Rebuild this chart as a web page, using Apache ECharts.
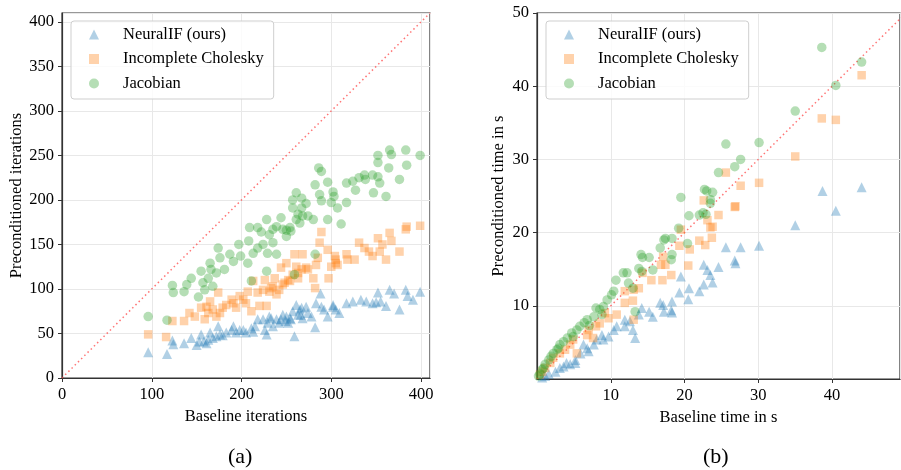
<!DOCTYPE html>
<html><head><meta charset="utf-8">
<script src="https://cdn.jsdelivr.net/npm/echarts@6/dist/echarts.min.js"></script>
<style>html,body{margin:0;padding:0;background:#fff;}#c{width:901px;height:470px;}</style>
</head><body><div id="c"></div>
<script>
const seriesNames = ['NeuralIF (ours)', 'Incomplete Cholesky', 'Jacobian'];
const iterTicksX = [0, 100, 200, 300, 400];
const timeTicks = [10, 20, 30, 40, 50];
const iterNeural = [[96,29],[117,27],[123,42],[124,38],[136,39],[144,45],[150,37],[153,41],[155,49],[158,41],[161,39],[163,43],[165,51],[168,45],[172,47],[174,58],[176,49],[179,48],[183,51],[189,54],[191,58],[194,51],[198,54],[202,54],[205,51],[211,56],[213,52],[215,58],[218,66],[224,66],[226,54],[228,49],[229,62],[231,69],[233,67],[235,58],[239,66],[242,62],[244,66],[246,71],[249,64],[250,69],[252,62],[254,67],[255,66],[257,75],[259,47],[261,82],[263,71],[265,77],[266,71],[267,79],[268,67],[272,80],[274,73],[278,69],[282,57],[283,84],[288,95],[289,80],[292,77],[296,69],[302,80],[302,82],[305,77],[309,73],[317,84],[324,86],[333,88],[339,86],[346,84],[350,85],[352,96],[355,86],[361,81],[365,99],[370,95],[376,77],[383,99],[385,92],[391,88],[399,97]];
const iterIC = [[96,49],[116,46],[123,64],[136,64],[142,73],[148,69],[155,79],[159,66],[161,80],[163,73],[165,86],[168,77],[172,69],[174,96],[176,73],[179,79],[183,82],[189,88],[191,84],[194,79],[198,92],[202,88],[205,84],[207,97],[211,75],[213,109],[218,96],[220,81],[224,99],[226,110],[228,81],[231,97],[233,101],[235,103],[237,112],[239,94],[242,99],[244,124],[246,105],[248,107],[250,129],[252,110],[254,109],[257,116],[259,139],[261,125],[263,112],[263,118],[267,122],[268,139],[272,124],[274,122],[280,112],[282,101],[283,127],[285,135],[287,152],[289,164],[296,144],[297,112],[300,125],[304,137],[305,133],[305,129],[307,127],[317,139],[318,133],[326,133],[331,152],[337,146],[342,142],[346,137],[352,157],[354,142],[357,150],[361,133],[365,163],[367,154],[376,142],[383,167],[384,170],[399,171]];
const iterJac = [[96,69],[117,65],[123,104],[124,96],[136,97],[139,105],[144,112],[152,91],[155,120],[157,107],[159,99],[163,112],[165,129],[166,122],[168,103],[172,118],[174,146],[176,135],[181,122],[187,139],[191,131],[197,150],[199,137],[207,129],[208,154],[209,169],[211,109],[213,140],[218,146],[218,169],[222,164],[224,150],[228,120],[228,178],[229,140],[231,161],[235,152],[235,167],[239,139],[239,170],[244,180],[246,167],[250,159],[250,166],[254,169],[255,165],[257,191],[257,200],[259,116],[261,208],[261,178],[263,184],[265,174],[267,191],[267,202],[268,182],[272,196],[274,182],[280,178],[282,139],[282,217],[286,236],[289,232],[287,206],[289,199],[296,220],[296,178],[300,197],[302,209],[303,204],[307,191],[311,173],[317,197],[317,219],[324,221],[327,211],[331,225],[337,228],[338,223],[346,228],[347,208],[352,226],[354,219],[352,250],[352,242],[361,204],[364,236],[365,256],[367,251],[376,223],[383,256],[384,239],[399,250]];
const timeNeural = [[44.0,26.2],[38.7,25.7],[40.5,23.0],[35.0,21.0],[30.1,18.2],[27.6,18.0],[25.6,18.0],[26.8,16.2],[26.9,15.8],[24.6,15.3],[22.6,15.6],[23.1,14.9],[23.5,14.2],[23.8,13.2],[22.6,12.9],[22.0,12.0],[20.6,12.4],[19.5,14.0],[19.3,11.8],[20.5,10.9],[18.3,10.6],[18.3,9.1],[18.2,9.4],[17.1,10.1],[17.2,9.2],[16.7,10.4],[15.7,8.5],[15.2,9.2],[14.2,9.7],[13.8,8.8],[13.3,5.6],[13.0,6.7],[12.6,7.9],[11.9,8.1],[11.9,7.2],[10.8,7.2],[10.4,6.7],[9.7,5.8],[9.0,5.4],[8.8,6.0],[8.1,5.4],[7.7,4.7],[6.8,4.2],[7.0,3.8],[6.3,4.7],[5.9,3.5],[5.2,2.6],[5.2,2.2],[4.5,2.0],[4.0,2.2],[3.6,1.7],[3.1,1.5],[2.5,1.0],[1.6,0.7],[1.1,0.4],[0.7,0.2]];
const timeIC = [[44.0,41.5],[38.6,35.6],[40.5,35.4],[35.0,30.4],[30.1,26.8],[27.6,26.4],[25.6,28.2],[26.8,23.5],[26.9,23.6],[24.6,22.4],[22.6,24.4],[23.1,21.7],[23.5,20.7],[23.8,20.8],[19.5,20.4],[22.0,18.9],[23.7,19.3],[22.8,18.3],[20.7,17.7],[19.3,18.2],[17.1,16.7],[17.4,15.6],[16.8,15.6],[20.5,15.5],[18.2,14.2],[17.0,13.5],[15.5,13.5],[14.3,14.5],[13.8,12.4],[13.1,12.2],[11.9,12.0],[13.0,10.7],[11.9,10.4],[10.8,8.8],[9.7,8.3],[9.2,9.0],[8.5,7.6],[8.0,7.2],[7.0,6.7],[6.8,6.0],[13.1,8.1],[7.6,5.6],[4.9,5.4],[5.4,3.5],[4.5,4.7],[3.8,4.0],[3.1,3.5],[2.2,2.9],[1.8,2.2],[1.1,1.5],[0.7,1.0],[0.4,0.6]];
const timeJac = [[44.0,43.3],[38.6,45.3],[40.5,40.1],[35.0,36.6],[30.1,32.3],[25.6,32.1],[27.6,30.0],[26.8,29.0],[24.6,28.2],[22.7,25.9],[23.0,25.7],[23.8,25.5],[23.5,24.5],[23.5,24.0],[19.5,24.8],[22.5,22.7],[22.0,22.4],[22.9,22.5],[20.6,22.3],[19.2,20.6],[17.4,19.2],[18.3,19.2],[20.4,18.5],[17.2,19.0],[16.7,17.9],[14.1,17.0],[14.3,16.6],[15.2,16.6],[18.3,17.0],[18.2,16.3],[15.7,14.9],[13.8,15.1],[14.2,14.7],[10.7,13.5],[11.7,14.5],[12.2,14.5],[12.4,13.1],[13.0,12.4],[10.4,12.0],[10.1,11.5],[9.5,10.8],[9.0,9.9],[8.0,9.7],[8.5,9.5],[8.8,8.8],[7.7,8.5],[6.8,8.1],[6.4,7.7],[7.1,7.3],[13.3,9.2],[5.8,7.2],[5.4,6.7],[4.9,5.8],[4.7,6.3],[4.1,5.6],[3.6,5.1],[3.1,4.7],[2.9,4.2],[2.7,4.0],[2.2,3.5],[1.9,3.1],[1.6,2.6],[1.1,2.0],[0.9,1.5],[0.7,1.3],[0.4,0.7],[0.2,0.4]];
const diagIter = [[0,0],[410,410]];
const diagTime = [[0,0],[50,50]];

const FONT = '"Liberation Serif", "DejaVu Serif", serif';
const FS = 16.5;
const colors = ['#1f77b4', '#ff7f0e', '#2ca02c'];
const symbols = ['triangle', 'rect', 'circle'];
const sizes = [10, 8.5, 9.5];
const ALPHA = 0.35;

function lab(extra) {
  return Object.assign({ color: '#000', fontFamily: FONT, fontSize: FS, margin: 8 }, extra || {});
}
function axisCommon(extra) {
  return Object.assign({
    type: 'value',
    axisLine: { show: true, onZero: false, lineStyle: { color: '#333', width: 1.2 } },
    axisTick: { show: true, length: 4, inside: false, lineStyle: { color: '#333', width: 1 } },
    splitLine: { show: true, lineStyle: { color: '#e8e8e8', width: 1 } },
    nameLocation: 'middle',
    nameTextStyle: { color: '#000', fontFamily: FONT, fontSize: FS }
  }, extra);
}

function legendFor(left) {
  return {
    orient: 'vertical', left: left, top: 21,
    padding: [5, 10, 7, 18],
    itemWidth: 10, itemHeight: 10, itemGap: 7.5,
    backgroundColor: 'rgba(255,255,255,0.8)',
    borderColor: '#cfcfcf', borderWidth: 1, borderRadius: 3,
    textStyle: { color: '#000', fontFamily: FONT, fontSize: FS, lineHeight: 16, padding: [0, 0, 0, 19] },
    data: seriesNames.map((n, i) => ({ name: n, icon: symbols[i], itemStyle: { color: colors[i], opacity: ALPHA } }))
  };
}

const iterData = [iterNeural, iterIC, iterJac];
const timeData = [timeNeural, timeIC, timeJac];
const series = [];
[0, 1].forEach(g => {
  const src = g === 0 ? iterData : timeData;
  src.forEach((d, i) => {
    series.push({
      name: seriesNames[i], type: 'scatter', xAxisIndex: g, yAxisIndex: g,
      symbol: symbols[i], symbolSize: sizes[i], data: d,
      itemStyle: { color: colors[i], opacity: ALPHA },
      emphasis: { disabled: true }, z: 3 + i
    });
  });
  series.push({
    type: 'line', xAxisIndex: g, yAxisIndex: g, data: g === 0 ? diagIter : diagTime,
    symbol: 'none', clip: true, silent: true,
    lineStyle: { color: 'rgba(255,70,70,0.75)', type: [1.5, 3], width: 1.5 }, z: 2
  });
});

const chart = echarts.init(document.getElementById('c'), null, { renderer: 'canvas' });
chart.setOption({
  animation: false,
  backgroundColor: '#fff',
  grid: [
    { left: 62, top: 13, width: 368, height: 365, show: true, borderColor: '#333', borderWidth: 1.2, backgroundColor: 'transparent' },
    { left: 537, top: 13, width: 363, height: 366, show: true, borderColor: '#333', borderWidth: 1.2, backgroundColor: 'transparent' }
  ],
  xAxis: [
    axisCommon({ gridIndex: 0, min: 0, max: 410, interval: 100, name: 'Baseline iterations', nameGap: 26,
      axisLabel: lab({ showMaxLabel: false }) }),
    axisCommon({ gridIndex: 1, min: 0, max: 49.2, interval: 10, name: 'Baseline time in s', nameGap: 26,
      axisLabel: lab({ showMinLabel: false, showMaxLabel: false }) })
  ],
  yAxis: [
    axisCommon({ gridIndex: 0, min: 0, max: 410, interval: 50, name: 'Preconditioned iterations', nameGap: 37,
      axisLabel: lab({ showMaxLabel: false }) }),
    axisCommon({ gridIndex: 1, min: 0, max: 50, interval: 10, name: 'Preconditioned time in s', nameGap: 30,
      axisLabel: lab({ showMinLabel: false }) })
  ],
  legend: [legendFor(71), legendFor(546)],
  series: series,
  graphic: [
    { type: 'text', left: 228, top: 446, style: { text: '(a)', font: '22px ' + FONT, fill: '#000' } },
    { type: 'text', left: 703, top: 446, style: { text: '(b)', font: '22px ' + FONT, fill: '#000' } }
  ]
});
</script>
</body></html>
